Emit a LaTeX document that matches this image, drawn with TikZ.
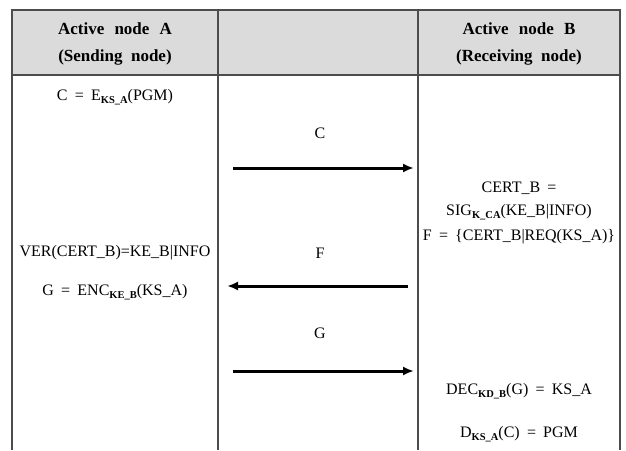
\documentclass[tikz,border=0pt]{standalone}
\usepackage{fontspec}
\setmainfont{Liberation Serif}
\usetikzlibrary{arrows.meta}
\newcommand\sbs[1]{\raisebox{-0.35ex}{\fontsize{10.5}{10.5}\selectfont\bfseries #1}}
\newcommand\eqs{\hspace{0.45em}=\hspace{0.45em}}
\tikzset{
  grid/.style={draw=black!70, line width=1.1pt},
  txt/.style={font=\fontsize{16}{18}\selectfont, inner sep=0pt, anchor=center},
  head/.style={font=\fontsize{17}{19}\selectfont\bfseries, inner sep=0pt, anchor=center},
  msg/.style={line width=3pt, -{Latex[length=11pt,width=9pt]}}
}
\begin{document}
\begin{tikzpicture}[x=1pt,y=-1pt]
\useasboundingbox (0,0) rectangle (626,450);
\fill[white] (0,0) rectangle (626,450);
\fill[black!14] (12,10) rectangle (620,75);
\draw[grid] (12,450) -- (12,10) -- (620,10) -- (620,450);
\draw[grid] (12,75) -- (620,75);
\draw[grid] (218,10) -- (218,450);
\draw[grid] (418,10) -- (418,450);
% headers
\node[head] (ha1) at (115,29) {Active\hspace{0.6em}node\hspace{0.6em}A};
\node[head] (ha2) at (115,57) {(Sending\hspace{0.5em}node)};
\node[head] (hb1) at (519,29) {Active\hspace{0.6em}node\hspace{0.6em}B};
\node[head] (hb2) at (519,57) {(Receiving\hspace{0.5em}node)};
% left column
\node[txt] (a1) at (115,97) {C\eqs E\sbs{KS\_A}(PGM)};
\node[txt] (a2) at (115,253) {VER(CERT\_B)=KE\_B|INFO};
\node[txt] (a3) at (115,292) {G\eqs ENC\sbs{KE\_B}(KS\_A)};
% right column
\node[txt] (b1) at (519,188) {CERT\_B\eqs};
\node[txt] (b2) at (519,212) {SIG\sbs{K\_CA}(KE\_B|INFO)};
\node[txt] (b3) at (519,237) {F\eqs\{CERT\_B|REQ(KS\_A)\}};
\node[txt] (b4) at (519,391) {DEC\sbs{KD\_B}(G)\eqs KS\_A};
\node[txt] (b5) at (519,434) {D\sbs{KS\_A}(C)\eqs PGM};
% messages
\node[txt] (mc) at (320,133) {C};
\node[txt] (mf) at (320,253) {F};
\node[txt] (mg) at (320,333) {G};
\coordinate (c1) at (233,168); \coordinate (c2) at (414,168);
\coordinate (f1) at (408,286); \coordinate (f2) at (227,286);
\coordinate (g1) at (233,371); \coordinate (g2) at (414,371);
\draw[msg] (c1) -- (c2);
\draw[msg] (f1) -- (f2);
\draw[msg] (g1) -- (g2);
\end{tikzpicture}
\end{document}
